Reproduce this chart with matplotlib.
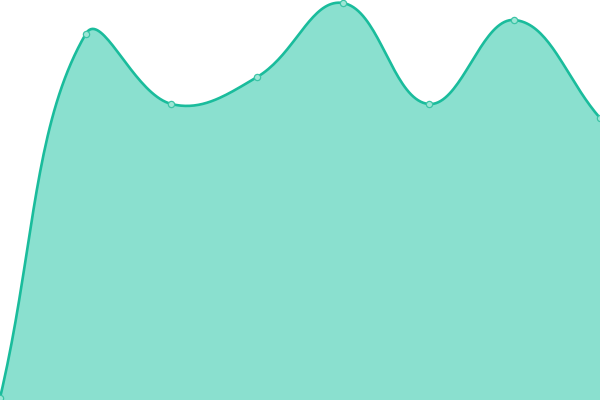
import numpy as np
import matplotlib
matplotlib.use("Agg")
import matplotlib.pyplot as plt

# ---------------------------------------------------------------- data
categories = ["A", "B", "C", "D", "E", "F", "G", "H"]
values = [2, 366, 296, 323, 397, 296, 380, 282]

LINE = "#1abc9c"
FILL = "#8ae0cf"
TENSION = 0.4


def spline_path(px, py, t=TENSION, n=40):
    """Cardinal-style bezier through points (pixel space), Chart.js-like."""
    pts = np.column_stack([px, py]).astype(float)
    m = len(pts)
    cp_prev = pts.copy()
    cp_next = pts.copy()
    for i in range(m):
        prev = pts[i - 1] if i > 0 else pts[i]
        cur = pts[i]
        nxt = pts[i + 1] if i < m - 1 else pts[i]
        d01 = np.hypot(*(cur - prev))
        d12 = np.hypot(*(nxt - cur))
        tot = d01 + d12
        s01 = d01 / tot if tot else 0.0
        s12 = d12 / tot if tot else 0.0
        cp_prev[i] = cur - t * s01 * (nxt - prev)
        cp_next[i] = cur + t * s12 * (nxt - prev)
    u = np.linspace(0, 1, n)[:, None]
    segs = []
    for i in range(m - 1):
        p0, p1, p2, p3 = pts[i], cp_next[i], cp_prev[i + 1], pts[i + 1]
        seg = ((1 - u) ** 3) * p0 + 3 * ((1 - u) ** 2) * u * p1 \
            + 3 * (1 - u) * u ** 2 * p2 + u ** 3 * p3
        segs.append(seg if i == 0 else seg[1:])
    return np.vstack(segs)


fig = plt.figure(figsize=(6, 4), dpi=100)
ax = fig.add_axes([0, 0, 1, 1])
ax.set_xlim(0, len(categories) - 1)
ax.set_ylim(0, 400)
ax.axis("off")

x = np.arange(len(categories))
disp = ax.transData.transform(np.column_stack([x, values]))
curve_px = spline_path(disp[:, 0], disp[:, 1])
curve = ax.transData.inverted().transform(curve_px)

ax.fill_between(curve[:, 0], 0, curve[:, 1], color=FILL, linewidth=0, zorder=1)
ax.plot(curve[:, 0], curve[:, 1], color=LINE, linewidth=1.9, zorder=2,
        solid_capstyle="round")
ax.plot(x, values, linestyle="none", marker="o", markersize=4.5,
        markerfacecolor="#9ee6d6", markeredgecolor="#3cc4a6",
        markeredgewidth=0.9, zorder=3, clip_on=False)

fig.savefig("out.png", dpi=100)
